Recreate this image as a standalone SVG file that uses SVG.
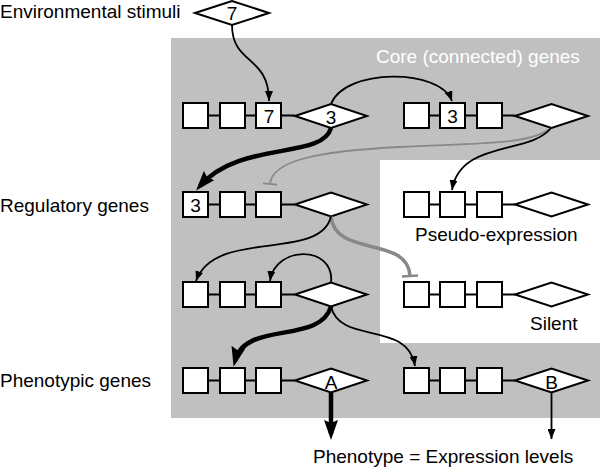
<svg xmlns="http://www.w3.org/2000/svg" width="600" height="470" viewBox="0 0 600 470">
<style>
.bg{fill:#fff}
.core{fill:#c0c0c0}
.box{fill:#fff;stroke:#000;stroke-width:2}
.dia{fill:#fff;stroke:#000;stroke-width:2;stroke-linejoin:miter}
.link{stroke:#000;stroke-width:2;fill:none}
.t{font-family:"Liberation Sans",Arial,Helvetica,sans-serif;font-size:19px;fill:#000}
.n{font-family:"Liberation Sans",Arial,Helvetica,sans-serif;font-size:19px;fill:#000;text-anchor:middle}
.w{fill:#fff}
.thin{fill:none;stroke:#000;stroke-width:1.8}
.thick{fill:none;stroke:#000;stroke-width:4.5}
.gthin{fill:none;stroke:#888;stroke-width:1.8}
.gthick{fill:none;stroke:#888;stroke-width:3.5}
</style>
<defs>
<marker id="ah" viewBox="0 0 10 8" markerUnits="userSpaceOnUse" markerWidth="10" markerHeight="8" refX="10" refY="4" orient="auto"><path d="M0,0 L10,4 L0,8 Z" fill="#000"/></marker>
<marker id="ahb" viewBox="0 0 20 14" markerUnits="userSpaceOnUse" markerWidth="20" markerHeight="14" refX="14" refY="7" orient="auto"><path d="M0,0 L20,7 L0,14 L3,7 Z" fill="#000"/></marker>
<marker id="tg" viewBox="-2 -8 4 16" markerUnits="userSpaceOnUse" markerWidth="4" markerHeight="16" refX="0" refY="0" orient="auto"><line x1="0" y1="-7" x2="0" y2="7" stroke="#888" stroke-width="1.8"/></marker>
<marker id="tgb" viewBox="-2 -9 4 18" markerUnits="userSpaceOnUse" markerWidth="4" markerHeight="18" refX="0" refY="0" orient="auto"><line x1="0" y1="-8" x2="0" y2="8" stroke="#888" stroke-width="2.5"/></marker>
</defs>
<rect class="bg" x="0" y="0" width="600" height="470"/>
<rect class="core" x="171" y="38" width="429" height="380"/>
<rect class="bg" x="380" y="160" width="220" height="183"/>

<g id="labels">
<text class="t" x="0" y="18">Environmental stimuli</text>
<text class="t" x="0" y="212">Regulatory genes</text>
<text class="t" x="0" y="387">Phenotypic genes</text>
<text class="t w" x="376" y="63">Core (connected) genes</text>
<text class="t" x="415" y="241">Pseudo-expression</text>
<text class="t" x="530" y="330">Silent</text>
<text class="t" x="313" y="463">Phenotype = Expression levels</text>
</g>

<g id="env">
<polygon class="dia" points="195,13 232,1 269,13 232,25"/>
<text class="n" x="232" y="20">7</text>
</g>

<g id="gene-r1-left">
<path class="link" d="M208,115.5 H220 M245,115.5 H256 M282,115.5 H295"/>
<rect class="box" x="183" y="103" width="25" height="25"/>
<rect class="box" x="220" y="103" width="25" height="25"/>
<rect class="box" x="256" y="103" width="25" height="25"/>
<polygon class="dia" points="295,116 331,104 367,116 331,128"/>
<text class="n" x="269" y="122.5">7</text>
<text class="n" x="331" y="124">3</text>
</g>

<g id="gene-r1-right">
<path class="link" d="M429,115.5 H440 M465,115.5 H477 M502,115.5 H515"/>
<rect class="box" x="404" y="103" width="25" height="25"/>
<rect class="box" x="440" y="103" width="25" height="25"/>
<rect class="box" x="477" y="103" width="25" height="25"/>
<polygon class="dia" points="515,116 551.5,104 588,116 551.5,128"/>
<text class="n" x="452.5" y="122.5">3</text>
</g>

<g id="gene-r2-left">
<path class="link" d="M208,204.5 H220 M245,204.5 H256 M282,204.5 H295"/>
<rect class="box" x="183" y="192" width="25" height="25"/>
<rect class="box" x="220" y="192" width="25" height="25"/>
<rect class="box" x="256" y="192" width="25" height="25"/>
<polygon class="dia" points="295,204.5 331,192.5 367,204.5 331,216.5"/>
<text class="n" x="195.5" y="211.5">3</text>
</g>

<g id="gene-pseudo">
<path class="link" d="M429,204.5 H440 M465,204.5 H477 M502,204.5 H515"/>
<rect class="box" x="404" y="192" width="25" height="25"/>
<rect class="box" x="440" y="192" width="25" height="25"/>
<rect class="box" x="477" y="192" width="25" height="25"/>
<polygon class="dia" points="515,204.5 551.5,192.5 588,204.5 551.5,216.5"/>
</g>

<g id="gene-r3-left">
<path class="link" d="M208,294.5 H220 M245,294.5 H256 M282,294.5 H295"/>
<rect class="box" x="183" y="282" width="25" height="25"/>
<rect class="box" x="220" y="282" width="25" height="25"/>
<rect class="box" x="256" y="282" width="25" height="25"/>
<polygon class="dia" points="295,294.5 331,282.5 367,294.5 331,306.5"/>
</g>

<g id="gene-silent">
<path class="link" d="M429,294.5 H440 M465,294.5 H477 M502,294.5 H515"/>
<rect class="box" x="404" y="282" width="25" height="25"/>
<rect class="box" x="440" y="282" width="25" height="25"/>
<rect class="box" x="477" y="282" width="25" height="25"/>
<polygon class="dia" points="515,294.5 551.5,282.5 588,294.5 551.5,306.5"/>
</g>

<g id="gene-A">
<path class="link" d="M208,380.5 H220 M245,380.5 H256 M282,380.5 H295"/>
<rect class="box" x="183" y="368" width="25" height="25"/>
<rect class="box" x="220" y="368" width="25" height="25"/>
<rect class="box" x="256" y="368" width="25" height="25"/>
<polygon class="dia" points="295,380.5 331,368.5 367,380.5 331,392.5"/>
<text class="n" x="331" y="389">A</text>
</g>

<g id="gene-B">
<path class="link" d="M429,380.5 H440 M465,380.5 H477 M502,380.5 H515"/>
<rect class="box" x="404" y="368" width="25" height="25"/>
<rect class="box" x="440" y="368" width="25" height="25"/>
<rect class="box" x="477" y="368" width="25" height="25"/>
<polygon class="dia" points="515,380.5 551.5,368.5 588,380.5 551.5,392.5"/>
<text class="n" x="551.5" y="389">B</text>
</g>

<g id="connectors">
<path class="thin" marker-end="url(#ah)" d="M232,25 C232,65 269,55 269,101"/>
<path class="thin" marker-end="url(#ah)" d="M331,104 C345,68 440,68 452,101"/>
<path class="thick" marker-end="url(#ahb)" d="M331,128 C322,160 240,140 200,186"/>
<path class="gthin" marker-end="url(#tg)" d="M551,128 C530,145 480,143 400,147 C320,151 272,160 270,184"/>
<path class="thin" marker-end="url(#ah)" d="M551,128 C530,155 460,140 452,190"/>
<path class="gthick" marker-end="url(#tgb)" d="M331,216.5 C335,258 408,235 410,276"/>
<path class="thin" marker-end="url(#ah)" d="M331,216.5 C320,262 215,228 196,281"/>
<path class="thin" marker-end="url(#ah)" d="M331,282.5 C335,245 275,245 270,281"/>
<path class="thick" marker-end="url(#ahb)" d="M331,306.5 C320,345 245,320 235,361"/>
<path class="thin" marker-end="url(#ah)" d="M331,306.5 C340,345 408,320 415,366"/>
<path class="thick" marker-end="url(#ahb)" d="M331,392.5 V434"/>
<path class="thin" marker-end="url(#ah)" d="M551.5,392.5 V439"/>
</g>
</svg>
